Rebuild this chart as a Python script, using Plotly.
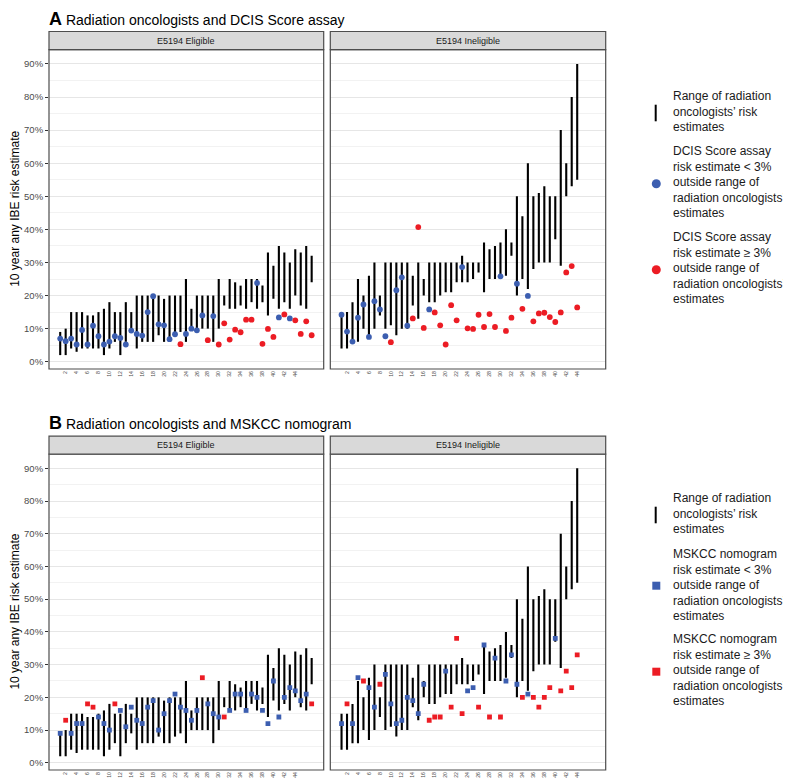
import plotly.graph_objects as go

W, H = 791, 779
FONT = "Liberation Sans, Arial, Helvetica, sans-serif"
BLUE = "#3C5EB0"
RED = "#EC1C24"

# ---------------- data ----------------
elig_cases = list(range(1, 48))
inel_cases = list(range(1, 45))

elig_lo = [2, 2, 4, 3, 4, 4, 4, 4, 2, 4, 6, 2, 6, 9, 4, 6, 6, 6, 8, 6, 6, 8, 9, 6, 10,
           10, 10, 10, 6, 10, 17, 16, 16, 17, 16, 18, 16, 18, 14, 19, 16, 18, 16, 20, 17, 16, 24]
elig_hi = [9, 10, 15, 15, 15, 14, 14, 15, 16, 18, 15, 15, 18, 15, 20, 20, 20, 20, 20, 19, 20, 20, 20, 25, 16,
           20, 20, 20, 20, 25, 20, 25, 24, 23, 25, 25, 25, 23, 33, 29, 35, 33, 30, 34, 33, 35, 32]

inel_lo = [4, 4, 6, 6, 10, 7, 10, 14, 10, 11, 8, 10, 10, 17, 13, 20, 18, 18, 20, 21, 21, 24,
           24, 24, 25, 27, 21, 25, 25, 25, 26, 32, 20, 25, 22, 28, 30, 30, 30, 37, 29, 50, 53, 55]
inel_hi = [15, 15, 18, 25, 20, 26, 30, 20, 30, 30, 30, 30, 30, 26, 30, 25, 30, 30, 30, 30, 30, 30,
           32, 30, 30, 30, 36, 34, 35, 36, 40, 36, 50, 44, 60, 50, 51, 53, 50, 50, 70, 60, 80, 90]

dcis_elig = [7.0, 6.2, 7.0, 5.2, 9.6, 5.2, 10.9, 7.7, 5.2, 6.1, 7.7, 7.2, 5.2, 9.4, 8.4, 7.9, 15.0, 19.8,
             11.3, 11.0, 6.8, 8.3, 5.3, 8.4, 10.0, 9.5, 14.0, 6.5, 13.8, 5.2, 11.6, 6.7, 9.7, 8.9, 12.7,
             12.7, 23.8, 5.4, 9.9, 7.5, 13.4, 14.3, 13.1, 12.5, 8.4, 12.2, 8.0]
dcis_elig_grp = "BBBBBBBBBBBBBBBBBBBBBB" + "R" + "BBBB" + "R" + "B" + "RRRRRRR" + "B" + "RRR" + "B" + "R" + "B" + "RRRR"

dcis_inel = [14.2, 9.1, 6.1, 13.3, 17.3, 7.5, 18.3, 15.8, 7.7, 5.9, 21.6, 25.5, 10.9, 13.1, 40.7, 10.2,
             15.8, 14.9, 11.0, 5.2, 17.1, 12.5, 28.6, 10.1, 9.9, 14.2, 10.5, 14.4, 10.5, 25.8, 9.3, 13.3,
             23.6, 16.0, 19.9, 12.2, 14.6, 14.8, 13.5, 12.0, 14.9, 27.0, 28.9, 16.4]
dcis_inel_grp = "BBBBBBBBB" + "R" + "BBB" + "RRR" + "B" + "RRRRR" + "B" + "RRRRRR" + "B" + "RR" + "B" + "R" + "B" + "RRRRRRRRR"

msk_elig = [9, 13, 9, 12, 12, 18, 17, 14, 12, 10, 18, 16, 11, 17, 13, 12, 17, 19, 10, 15, 19, 21, 17, 16,
            13, 16, 26, 18, 15, 14, 14, 16, 21, 21, 16, 21, 20, 16, 12, 25, 14, 20, 23, 22, 19, 21, 18]
msk_elig_grp = "B" + "R" + "BBB" + "RR" + "BBB" + "R" + "BBBBBBBBBBBBBBB" + "R" + "BBB" + "R" + "BBBBBBBBBBBBBBB" + "R"

msk_inel = [12, 18, 12, 26, 25, 23, 17, 24, 27, 18, 12, 13, 20, 19, 15, 24, 13, 14, 14, 28, 17, 38,
            15, 22, 23, 17, 36, 14, 32, 14, 25, 33, 24, 20, 21, 20, 17, 20, 23, 38, 22, 28, 23, 33]
msk_inel_grp = "BRBBRBBR" + "BBBBBBBB" + "RRRBRRRBBRBRBRBBBRBRRRRBRRRR"

x_ticks = list(range(2, 45, 2))
y_ticks = [0, 10, 20, 30, 40, 50, 60, 70, 80, 90]
y_tick_text = ["0%", "10%", "20%", "30%", "40%", "50%", "60%", "70%", "80%", "90%"]

strip_labels = ["E5194 Eligible", "E5194 Ineligible"]
titles = ["Radiation oncologists and DCIS Score assay", "Radiation oncologists and MSKCC nomogram"]
legend_models = ["DCIS Score assay", "MSKCC nomogram"]

# ---------------- layout helpers ----------------
def px(x):
    return x / W


def py(y):
    return 1 - y / H


panels = [
    dict(cases=elig_cases, lo=elig_lo, hi=elig_hi, val=dcis_elig, grp=dcis_elig_grp, sym="circle", size=5.8),
    dict(cases=inel_cases, lo=inel_lo, hi=inel_hi, val=dcis_inel, grp=dcis_inel_grp, sym="circle", size=5.8),
    dict(cases=elig_cases, lo=elig_lo, hi=elig_hi, val=msk_elig, grp=msk_elig_grp, sym="square", size=4.8),
    dict(cases=inel_cases, lo=inel_lo, hi=inel_hi, val=msk_inel, grp=msk_inel_grp, sym="square", size=4.8),
]

x_dom = [(41.0, 315.7), (322.3, 597.7)]
y_dom = [(41.7, 361.0), (446.2, 762.0)]   # top, bottom in px for rows A and B
strip_px = [(23.5, 41.7), (428.2, 446.2)]

fig = go.Figure()
layout = dict(
    width=W, height=H, autosize=False,
    margin=dict(l=0, r=0, t=0, b=0),
    paper_bgcolor="white", plot_bgcolor="white",
    showlegend=False,
    font=dict(family=FONT, color="#000000"),
)
shapes = []
annotations = []

for i, p in enumerate(panels):
    n = i + 1
    row, col = divmod(i, 2)
    xs, ys = [], []
    for c, l, h in zip(p["cases"], p["lo"], p["hi"]):
        xs += [c, c, None]
        ys += [l, h, None]
    xa = "x" if n == 1 else f"x{n}"
    ya = "y" if n == 1 else f"y{n}"
    fig.add_trace(go.Scatter(x=xs, y=ys, mode="lines", line=dict(color="black", width=2.1),
                             xaxis=xa, yaxis=ya, hoverinfo="skip"))
    for g, colr in (("B", BLUE), ("R", RED)):
        cx = [c for c, gg in zip(p["cases"], p["grp"]) if gg == g]
        cy = [v for v, gg in zip(p["val"], p["grp"]) if gg == g]
        fig.add_trace(go.Scatter(x=cx, y=cy, mode="markers",
                                 marker=dict(color=colr, symbol=p["sym"], size=p["size"], line=dict(width=0)),
                                 xaxis=xa, yaxis=ya))
    xd = x_dom[col]
    yd = y_dom[row]
    layout["xaxis" if n == 1 else f"xaxis{n}"] = dict(
        domain=[px(xd[0]), px(xd[1])], anchor=ya, range=[-1.05, 49.2],
        tickvals=x_ticks, ticktext=[str(t) for t in x_ticks], tickangle=-90,
        tickfont=dict(size=5.2, color="#4D4D4D", family=FONT),
        ticks="", ticklen=0,
        showgrid=False, zeroline=False, showline=False,
    )
    layout["yaxis" if n == 1 else f"yaxis{n}"] = dict(
        domain=[py(yd[1]), py(yd[0])], anchor=xa, range=[-2.2, 94.3],
        tickvals=y_ticks, ticktext=y_tick_text, showticklabels=(col == 0),
        tickfont=dict(size=9.5, color="#4D4D4D", family=FONT),
        ticks="outside" if col == 0 else "", ticklen=3, tickcolor="#333333", tickwidth=0.8,
        showgrid=True, gridcolor="#E6E6E6", gridwidth=1,
        minor=dict(dtick=5, tick0=5, showgrid=True, gridcolor="#F2F2F2", gridwidth=0.7, ticks=""),
        zeroline=False, showline=False,
    )
    # panel border
    xr = "x domain" if n == 1 else f"x{n} domain"
    yr = "y domain" if n == 1 else f"y{n} domain"
    shapes.append(dict(type="rect", xref=xr, yref=yr, x0=0, x1=1, y0=0, y1=1,
                       line=dict(color="#4D4D4D", width=1.2), fillcolor="rgba(0,0,0,0)", layer="above"))
    # strip
    sp = strip_px[row]
    shapes.append(dict(type="rect", xref="paper", yref="paper", x0=px(xd[0]), x1=px(xd[1]),
                       y0=py(sp[1]), y1=py(sp[0]), line=dict(color="#4D4D4D", width=1.2),
                       fillcolor="#D9D9D9", layer="above"))
    annotations.append(dict(text=strip_labels[col], xref="paper", yref="paper",
                            x=px((xd[0] + xd[1]) / 2), y=py((sp[0] + sp[1]) / 2),
                            xanchor="center", yanchor="middle", showarrow=False,
                            font=dict(size=9, color="#1A1A1A", family=FONT)))

# titles, axis titles and legends
title_y = [11.0, 415.0]
legend_off = [0.0, 402.0]
for r in range(2):
    letter = "A" if r == 0 else "B"
    annotations.append(dict(text=f"<b><span style='font-size:18px'>{letter}</span></b> {titles[r]}",
                            xref="paper", yref="paper", x=px(39), y=py(title_y[r]),
                            xanchor="left", yanchor="middle", showarrow=False,
                            font=dict(size=14, color="#000000", family=FONT)))
    yd = y_dom[r]
    annotations.append(dict(text="10 year any IBE risk estimate", xref="paper", yref="paper",
                            x=px(7.5), y=py((yd[0] + yd[1]) / 2), textangle=-90,
                            xanchor="center", yanchor="middle", showarrow=False,
                            font=dict(size=12, color="#000000", family=FONT)))
    o = legend_off[r]
    sym = "circle" if r == 0 else "rect"
    shapes.append(dict(type="line", xref="paper", yref="paper", x0=px(647.7), x1=px(647.7),
                       y0=py(96.7 + o), y1=py(113.3 + o), line=dict(color="black", width=2)))
    for yc, colr in ((175.7, BLUE), (261.7, RED)):
        half = 4.5 if r == 0 else 4.0
        shapes.append(dict(type=sym, xref="paper", yref="paper", xsizemode="pixel", ysizemode="pixel",
                           xanchor=px(648.3), yanchor=py(yc + o), x0=-half, x1=half, y0=-half, y1=half,
                           fillcolor=colr, line=dict(width=0)))
    texts = [
        ("Range of radiation<br>oncologists’ risk<br>estimates", 103.5),
        (f"{legend_models[r]}<br>risk estimate &lt; 3%<br>outside range of<br>radiation oncologists’<br>estimates", 174.5),
        (f"{legend_models[r]}<br>risk estimate ≥ 3%<br>outside range of<br>radiation oncologists’<br>estimates", 260.0),
    ]
    for t, yc in texts:
        annotations.append(dict(text=t, xref="paper", yref="paper", x=px(662.5), y=py(yc + o),
                                xanchor="left", yanchor="middle", align="left", showarrow=False,
                                font=dict(size=12, color="#1A1A1A", family=FONT)))

layout["shapes"] = shapes
layout["annotations"] = annotations
fig.update_layout(**layout)
fig.write_html("out.html")
